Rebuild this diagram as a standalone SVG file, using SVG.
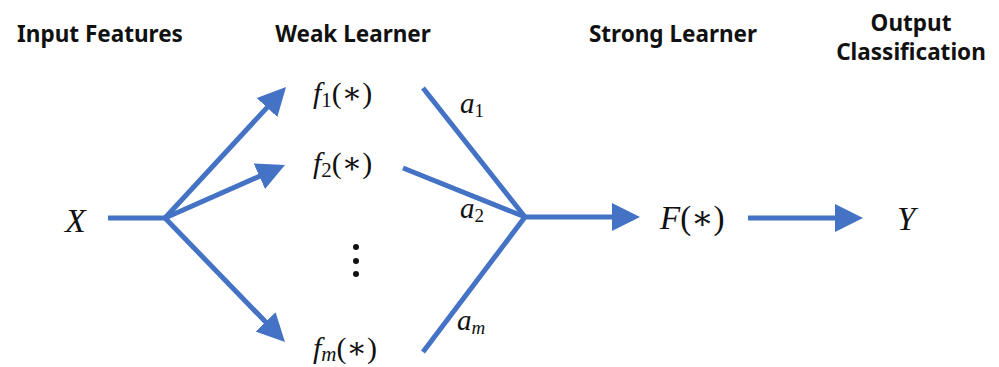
<svg xmlns="http://www.w3.org/2000/svg" width="999" height="367" viewBox="0 0 999 367">
<style>
.title{font-family:"Noto Sans","Open Sans","Liberation Sans",sans-serif;font-weight:bold;font-size:22.5px;fill:#111}
.math{font-family:"Liberation Serif","DejaVu Serif",serif;fill:#111}
.it{font-style:italic}
.ln{stroke:#4472C4;stroke-width:5;fill:none;stroke-linecap:butt}
</style>
<defs>
<marker id="ah" markerUnits="userSpaceOnUse" markerWidth="30" markerHeight="30" viewBox="0 -15 30 30" refX="2" refY="0" orient="auto">
<path d="M0,-14 L28,0 L0,14 z" fill="#4472C4"/>
</marker>
</defs>
<rect width="999" height="367" fill="#fff"/>
<g id="titles">
<text class="title" x="100" y="42" text-anchor="middle">Input Features</text>
<text class="title" x="353" y="42" text-anchor="middle">Weak Learner</text>
<text class="title" x="673" y="42" text-anchor="middle">Strong Learner</text>
<text class="title" x="911" y="31" text-anchor="middle" font-size="22">Output</text>
<text class="title" x="911" y="60" text-anchor="middle" font-size="22">Classification</text>
</g>
<g id="connectors">
<line class="ln" x1="108" y1="218" x2="166" y2="218"/>
<line class="ln" x1="165" y1="218" x2="268.4" y2="106.1" marker-end="url(#ah)"/>
<line class="ln" x1="165" y1="218" x2="261.2" y2="175.5" marker-end="url(#ah)"/>
<line class="ln" x1="165" y1="218" x2="266.9" y2="323.3" marker-end="url(#ah)"/>
<line class="ln" x1="423" y1="88" x2="525" y2="217"/>
<line class="ln" x1="403" y1="168" x2="525" y2="217"/>
<line class="ln" x1="525" y1="217" x2="423" y2="352"/>
<line class="ln" x1="523" y1="217" x2="614" y2="217" marker-end="url(#ah)"/>
<line class="ln" x1="748" y1="218" x2="837" y2="218" marker-end="url(#ah)"/>
</g>
<g id="node-X">
<text class="math it" x="65" y="232" font-size="34">X</text>
</g>
<g id="node-f1">
<text class="math" x="313" y="103" font-size="30"><tspan class="it">f</tspan><tspan font-size="21" dy="4">1</tspan><tspan dy="-4">(∗)</tspan></text>
</g>
<g id="node-f2">
<text class="math" x="313" y="173" font-size="30"><tspan class="it">f</tspan><tspan font-size="21" dy="4">2</tspan><tspan dy="-4">(∗)</tspan></text>
</g>
<g id="node-dots">
<circle cx="356" cy="247" r="3" fill="#111"/>
<circle cx="356" cy="261" r="3" fill="#111"/>
<circle cx="356" cy="274" r="3" fill="#111"/>
</g>
<g id="node-fm">
<text class="math" x="313" y="358" font-size="30"><tspan class="it">f</tspan><tspan class="it" font-size="21" dy="3">m</tspan><tspan dy="-3">(∗)</tspan></text>
</g>
<g id="weights">
<text class="math" x="460" y="113" font-size="29"><tspan class="it">a</tspan><tspan font-size="19" dy="4">1</tspan></text>
<text class="math" x="460" y="218" font-size="29"><tspan class="it">a</tspan><tspan font-size="19" dy="4">2</tspan></text>
<text class="math" x="457" y="330" font-size="29"><tspan class="it">a</tspan><tspan class="it" font-size="19" dy="4">m</tspan></text>
</g>
<g id="node-F">
<text class="math" x="660" y="229" font-size="33"><tspan class="it">F</tspan>(∗)</text>
</g>
<g id="node-Y">
<text class="math it" x="897" y="230" font-size="33">Y</text>
</g>
</svg>
